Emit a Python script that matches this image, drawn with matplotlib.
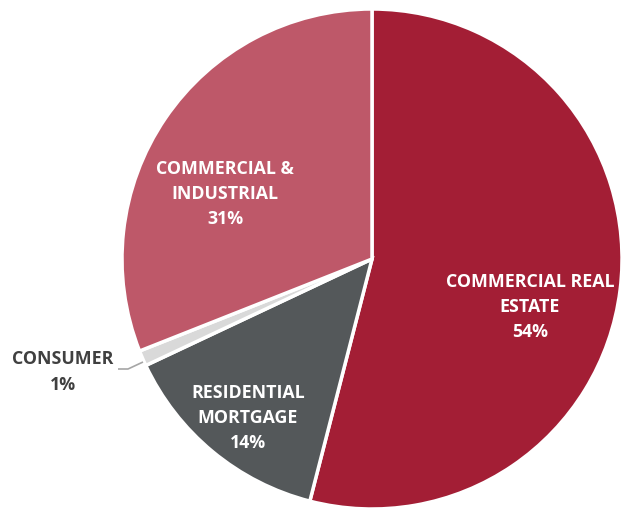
import matplotlib
matplotlib.use("Agg")
import matplotlib.pyplot as plt

# Loan portfolio composition
categories = ["COMMERCIAL REAL\nESTATE", "RESIDENTIAL\nMORTGAGE", "CONSUMER", "COMMERCIAL &\nINDUSTRIAL"]
shares = [54, 14, 1, 31]
colors = ["#A31E35", "#54585A", "#D9D9D9", "#BE5869"]
explode = [0.02, 0, 0, 0]

W, H = 623, 508
fig = plt.figure(figsize=(W / 100, H / 100), dpi=100)
ax = fig.add_axes([0, 0, 1, 1])

cx, cy, r = 372, H - 259, 250
ax.pie(shares, colors=colors, explode=explode, startangle=90, counterclock=False,
       center=(cx, cy), radius=r, frame=True,
       wedgeprops=dict(edgecolor="white", linewidth=2.5))
ax.set_xlim(0, W)
ax.set_ylim(0, H)
ax.set_aspect("equal")
ax.axis("off")

font = dict(family=["Open Sans", "DejaVu Sans"], fontweight="bold", fontsize=12.8,
            ha="center", va="center", linespacing=1.5)

# label anchor points (pixel coordinates, y measured from top)
label_xy = [(530, 307), (248, 418), (63, 372), (225, 194)]
label_color = ["white", "white", "#404040", "white"]
for name, v, (x, y), c in zip(categories, shares, label_xy, label_color):
    ax.text(x, H - y, f"{name}\n{v}%", color=c, **font)

# leader line for the small consumer slice
ax.plot([118, 128, 143], [H - 369, H - 369, H - 362], color="#A6A6A6", lw=1.2,
        solid_capstyle="butt")

fig.savefig("out.png", dpi=100)
